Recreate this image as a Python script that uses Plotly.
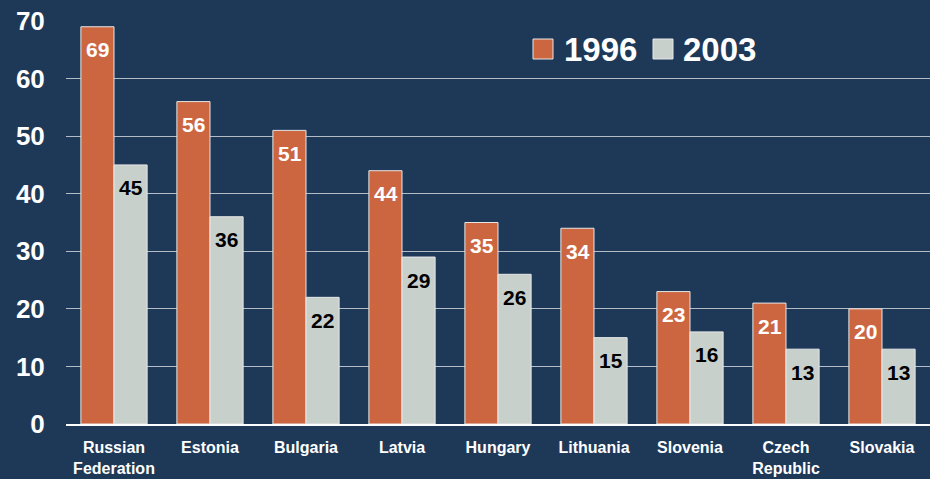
import plotly.graph_objects as go

categories = ["Russian<br>Federation", "Estonia", "Bulgaria", "Latvia", "Hungary",
              "Lithuania", "Slovenia", "Czech<br>Republic", "Slovakia"]
values_1996 = [69, 56, 51, 44, 35, 34, 23, 21, 20]
values_2003 = [45, 36, 22, 29, 26, 15, 16, 13, 13]
series_names = ["1996", "2003"]

BG = "#1e3958"
ORANGE = "#cc6641"
GRAY = "#c8d0cc"
FONT = "Liberation Sans, Arial, sans-serif"

W, H = 930, 479
ML, MR, MT, MB = 66, 0, 21, 55
PW, PH = W - ML - MR, H - MT - MB

fig = go.Figure()
fig.add_trace(go.Bar(x=categories, y=values_1996, name=series_names[0],
                     marker=dict(color=ORANGE, line=dict(color="#e6e6e6", width=1))))
fig.add_trace(go.Bar(x=categories, y=values_2003, name=series_names[1],
                     marker=dict(color=GRAY, line=dict(color="#e6e6e6", width=1))))

annotations = []
for cat, v in zip(categories, values_1996):
    annotations.append(dict(x=cat, y=v, xref="x", yref="y", text=str(v), showarrow=False,
                            xshift=-16.5, yshift=-23, yanchor="middle",
                            font=dict(family=FONT, size=21, color="white", weight="bold")))
for cat, v in zip(categories, values_2003):
    annotations.append(dict(x=cat, y=v, xref="x", yref="y", text=str(v), showarrow=False,
                            xshift=16.5, yshift=-23, yanchor="middle",
                            font=dict(family=FONT, size=21, color="black", weight="bold")))

# legend (paper coords relative to plot area)
def px_x(p):
    return (p - ML) / PW
def px_y(p):
    return 1 - (p - MT) / PH

shapes = [
    dict(type="rect", xref="paper", yref="paper", x0=px_x(533), x1=px_x(553),
         y0=px_y(59), y1=px_y(39), fillcolor=ORANGE, line=dict(color="#e6e6e6", width=1)),
    dict(type="rect", xref="paper", yref="paper", x0=px_x(653), x1=px_x(673),
         y0=px_y(59), y1=px_y(39), fillcolor=GRAY, line=dict(color="#e6e6e6", width=1)),
]
annotations.append(dict(x=px_x(562), y=px_y(49), xref="paper", yref="paper", text=series_names[0],
                        showarrow=False, xanchor="left", yanchor="middle",
                        font=dict(family=FONT, size=33, color="white", weight="bold")))
annotations.append(dict(x=px_x(681), y=px_y(49), xref="paper", yref="paper", text=series_names[1],
                        showarrow=False, xanchor="left", yanchor="middle",
                        font=dict(family=FONT, size=33, color="white", weight="bold")))

fig.update_layout(
    width=W, height=H,
    paper_bgcolor=BG, plot_bgcolor=BG,
    margin=dict(l=ML, r=MR, t=MT, b=MB),
    barmode="group", bargap=0.31, bargroupgap=0,
    showlegend=False,
    annotations=annotations, shapes=shapes,
    font=dict(family=FONT, color="white"),
)
fig.update_xaxes(showgrid=False, showline=True, linecolor="white", linewidth=2,
                 ticks="outside", ticklen=8, tickcolor="rgba(0,0,0,0)",
                 tickfont=dict(family=FONT, size=16, color="white", weight="bold"))
fig.update_yaxes(range=[0, 70], dtick=10, showgrid=True, gridcolor="#b4bcc6", gridwidth=1,
                 zeroline=False, ticks="outside", ticklen=15, tickcolor="rgba(0,0,0,0)",
                 tickfont=dict(family=FONT, size=26, color="white", weight="bold"))

fig.write_html("out.html", config={"displayModeBar": False},
               post_script="document.body.style.margin='0';document.body.style.overflow='hidden';")
